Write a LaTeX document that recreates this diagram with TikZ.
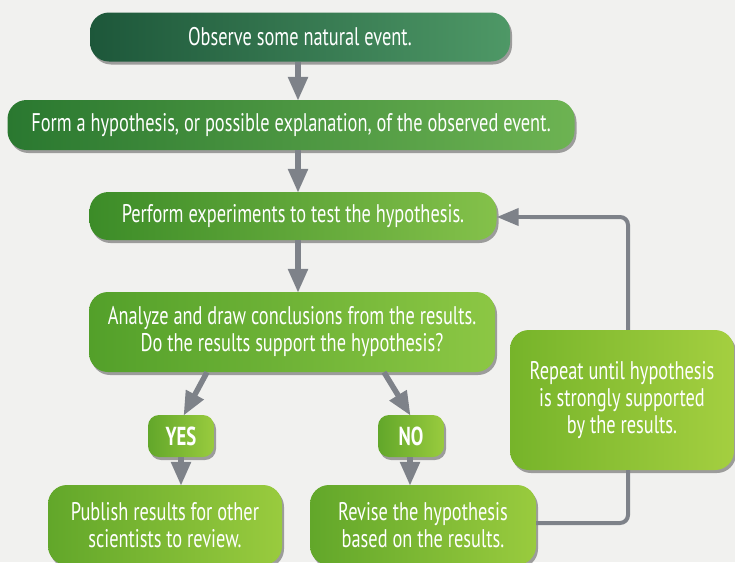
\documentclass[tikz,border=0pt]{standalone}
\usepackage{fontspec}
\setmainfont{PT Sans}[FakeStretch=0.72]
\usetikzlibrary{arrows.meta,shadows}
\definecolor{bg}{HTML}{F1F1EF}
\definecolor{arr}{HTML}{7E8289}
\definecolor{gAl}{HTML}{1D573A}\definecolor{gAr}{HTML}{4E9866}
\definecolor{gBl}{HTML}{2A7830}\definecolor{gBr}{HTML}{6DB352}
\definecolor{gCl}{HTML}{3C8C28}\definecolor{gCr}{HTML}{84C14A}
\definecolor{gDl}{HTML}{53A02A}\definecolor{gDr}{HTML}{8CC744}
\definecolor{gEl}{HTML}{62A72A}\definecolor{gEr}{HTML}{99CB3E}
\definecolor{gFl}{HTML}{76B42A}\definecolor{gFr}{HTML}{A4CF40}
\tikzset{
  box/.style={rounded corners=19pt, text=white, align=center, inner sep=0pt,
    font=\fontsize{25.5}{27}\selectfont,
    drop shadow={shadow xshift=2pt, shadow yshift=-3pt, fill=black, opacity=0.35}},
  small/.style={rounded corners=11pt, minimum width=66pt, minimum height=42pt,
    font=\fontsize{26}{26}\selectfont\bfseries},
  flow/.style={draw=arr, line width=5.5pt, -{Triangle[length=24pt,width=19pt]}, shorten >=-1pt},
  loop/.style={draw=arr, line width=4pt, rounded corners=8pt},
}
\begin{document}
\begin{tikzpicture}[x=1pt,y=-1pt]
\fill[bg] (0,0) rectangle (735,562);
\useasboundingbox (0,0) rectangle (735,562);

\node[box, left color=gAl, right color=gAr, minimum width=420pt, minimum height=49pt] (b1) at (300,37) {Observe some natural event.};
\node[box, left color=gBl, right color=gBr, minimum width=567pt, minimum height=50pt] (b2) at (291,125) {Form a hypothesis, or possible explanation, of the observed event.};
\node[box, left color=gCl, right color=gCr, minimum width=407pt, minimum height=48pt] (b3) at (293,216) {Perform experiments to test the hypothesis.};
\node[box, left color=gDl, right color=gDr, minimum width=406pt, minimum height=80pt] (b4) at (292,332) {Analyze and draw conclusions from the results.\\Do the results support the hypothesis?};
\node[box, small, left color=gEl, right color=gEr] (yes) at (181,436) {YES};
\node[box, small, left color=gEl, right color=gEr] (no) at (411,436) {NO};
\node[box, left color=gEl, right color=gEr, minimum width=234pt, minimum height=80pt] (pub) at (165,525) {Publish results for other\\scientists to review.};
\node[box, left color=gEl, right color=gEr, minimum width=226pt, minimum height=80pt] (rev) at (423,525) {Revise the hypothesis\\based on the results.};
\node[box, left color=gFl, right color=gFr, minimum width=224pt, minimum height=140pt] (rep) at (622,400) {Repeat until hypothesis\\is strongly supported\\by the results.};

\draw[flow] (b1.south -| 298,0) -- (b2.north -| 298,0);
\draw[flow] (b2.south -| 298,0) -- (b3.north -| 298,0);
\draw[flow] (b3.south -| 298,0) -- (b4.north -| 298,0);
\draw[flow] (b4.south -| 207,0) -- (yes.north -| 184,0);
\draw[flow] (b4.south -| 384,0) -- (no.north -| 410,0);
\draw[flow] (yes.south -| 181,0) -- (pub.north -| 181,0);
\draw[flow] (no.south -| 410,0) -- (rev.north -| 410,0);

\coordinate (c1) at (628,523);
\coordinate (c2) at (628,217);
\draw[loop] (rev.east |- c1) -- (c1) -- (rep.south -| c1);
\draw[loop] (rep.north -| c2) -- (c2) -- (530,217);
\draw[arr, line width=4pt, -{Triangle[length=22pt,width=17pt]}] (531,217) -- (b3.east |- c2);
\end{tikzpicture}
\end{document}
